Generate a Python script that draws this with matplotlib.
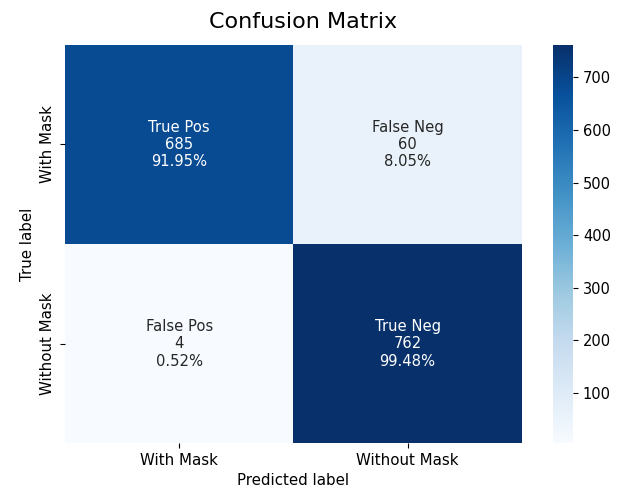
import numpy as np
import matplotlib
matplotlib.use("Agg")
import matplotlib.pyplot as plt
import seaborn as sns

labels = ["With Mask", "Without Mask"]
group_names = ["True Pos", "False Neg", "False Pos", "True Neg"]
counts = [685, 60, 4, 762]
percents = ["91.95%", "8.05%", "0.52%", "99.48%"]

cm = np.array(counts).reshape(2, 2)
annot = np.array([f"{n}\n{c}\n{p}" for n, c, p in zip(group_names, counts, percents)]).reshape(2, 2)

fig = plt.figure(figsize=(6.25, 4.93), dpi=100)
ax = fig.add_axes([0.104, 0.101, 0.731, 0.808])
cax = fig.add_axes([0.885, 0.101, 0.032, 0.808])
sns.heatmap(cm, annot=annot, fmt="", cmap="Blues", ax=ax, cbar_ax=cax,
            xticklabels=labels, yticklabels=labels, annot_kws={"fontsize": 10.6})
cax.tick_params(labelsize=10.5)
cax.set_yticks([100, 200, 300, 400, 500, 600, 700])
ax.set_title("Confusion Matrix", fontsize=16, pad=12, x=0.52)
ax.set_xlabel("Predicted label", fontsize=10.8)
ax.set_ylabel("True label", fontsize=10.8)
ax.tick_params(labelsize=10.8)
fig.savefig("out.png", dpi=100)
